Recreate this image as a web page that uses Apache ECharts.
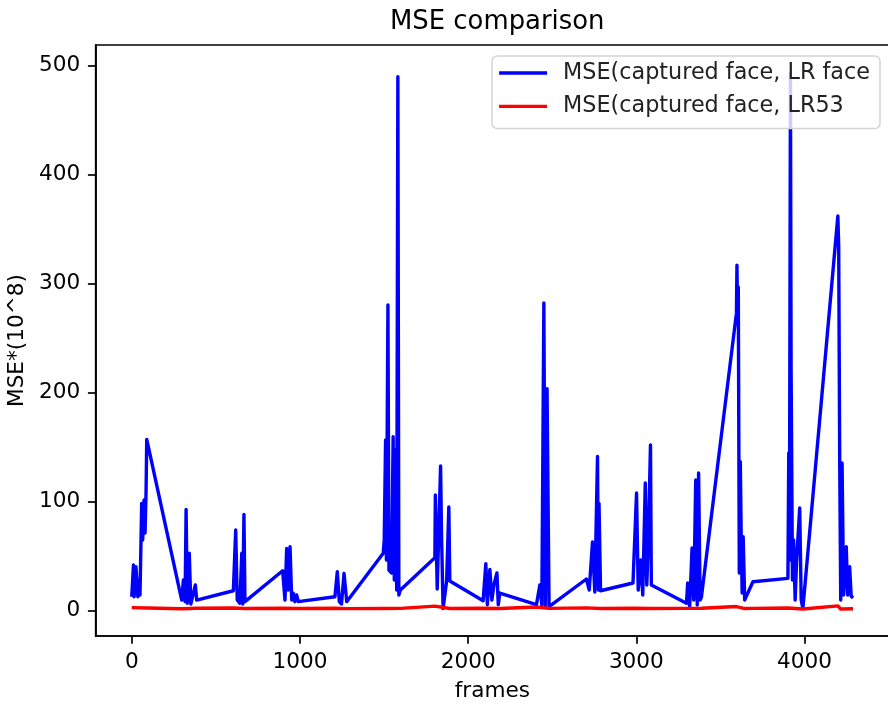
<!DOCTYPE html>
<html>
<head>
<meta charset="utf-8">
<script src="https://cdn.jsdelivr.net/npm/echarts@6/dist/echarts.min.js"></script>
<style>
html,body{margin:0;padding:0;background:#fff;}
#chart{width:888px;height:704px;}
</style>
</head>
<body>
<div id="chart"></div>
<script>
// ---- data ----
const blueFrames = [0,10,14,25,36,45,49,59,65,73,79,85,89,
  297,307,317,323,330,342,351,366,378,386,
  604,618,627,643,654,660,667,673,
  897,911,921,930,941,951,960,970,980,990,
  1208,1222,1234,1247,1262,1278,
  1495,1501,1509,1514,1523,1529,1545,1554,1561,1570,1575,1582,1588,1597,
  1802,1805,1816,1836,1842,1851,1872,1885,1891,
  2089,2105,2114,2129,2141,2153,2171,2179,2188,
  2406,2426,2438,2450,2459,2469,2481,
  2703,2720,2739,2753,2769,2774,2778,2787,
  2980,3001,3011,3026,3038,3053,3062,3071,3084,3089,
  3298,3305,3317,3331,3341,3353,3362,3370,3379,3387,
  3595,3598,3602,3606,3612,3618,3623,3629,3635,3644,3693,
  3901,3906,3910,3916,3920,3928,3935,3944,3953,3971,3980,3990,
  4198,4203,4209,4215,4223,4232,4248,4256,4268,4277,4288];
const blueMSE = [12.8,41.9,12.8,40.4,12.8,28.2,14.4,98.5,64.9,101.6,71.3,109.2,157.2,
  9.8,28.2,8.3,93,6.8,52.7,6.1,16,23.6,9.8,
  18.3,74,9.8,6.8,52.7,6.1,88.4,8.3,
  36.7,9.8,57.2,19,58.7,9.8,16,8.3,14.4,8.3,
  12.8,35.8,8.3,6.1,34.3,8.3,
  52.7,64.9,156.6,46.5,280.5,37.3,34.6,159.6,28.2,148,19,490,14.4,19,
  48.6,106.1,19.9,132.8,66.7,1.9,27.2,95.1,27.2,
  9.1,43.2,5.5,37.8,9.8,23.6,34.6,5.5,16.2,
  5.5,23.6,5.2,282.3,4.3,203.7,3.8,
  29.1,19,63,17.2,141.5,19,98.3,18.3,
  25.4,108,19,46.5,14.4,117.2,23.6,64.9,152,23.6,
  6.8,25.4,3.4,57.5,9.8,120,5.2,126.3,9.8,12.8,
  273,317,266.7,297,34.6,136.7,71.3,16.2,67.9,9.8,26.6,
  29.7,144.7,46.5,493,220.8,28.2,64.9,9.8,46.5,94.2,9.8,2.2,
  362.1,334,135.5,9.8,135.5,14.4,58.7,14.4,40.4,13.5,11.7];
const redFrames = [0,90,297,386,604,673,897,990,1208,1278,1495,1600,1802,1891,
  2089,2188,2406,2481,2703,2787,2980,3089,3298,3387,3595,3644,3693,3901,3990,4198,4215,4288];
const redMSE = [2.8,2.5,1.8,2.2,2.5,2.0,2.3,2.0,2.2,1.9,2.0,2.1,4.2,2.0,
  2.3,2.0,3.4,2.1,2.6,2.0,2.3,2.0,2.1,2.2,3.8,2.0,2.1,2.5,1.6,4.4,1.6,1.8];
const xTicks = [0,1000,2000,3000,4000];
const yTicks = [0,100,200,300,400,500];
const seriesNames = ['MSE(captured face, LR face', 'MSE(captured face, LR53'];

const zip = (xs, ys) => xs.map((x, i) => [x, ys[i]]);

const FONT = 'DejaVu Sans';
const chart = echarts.init(document.getElementById('chart'), null, {renderer: 'canvas'});
const axisCommon = {
  axisLine: {show: true, onZero: false, lineStyle: {color: '#000', width: 1.7}},
  axisTick: {show: true, inside: false, length: 7.8, lineStyle: {color: '#000', width: 1.7}},
  splitLine: {show: false},
  nameTextStyle: {color: '#000', fontFamily: FONT, fontSize: 21.6}
};
chart.setOption({
  animation: false,
  backgroundColor: '#fff',
  title: {
    text: 'MSE comparison', left: 385, top: 4,
    textStyle: {color: '#000', fontFamily: FONT, fontSize: 25.9, fontWeight: 'normal'}
  },
  legend: {
    data: seriesNames, orient: 'vertical', right: 8, top: 56,
    icon: 'rect', itemWidth: 48, itemHeight: 3.4, itemGap: 11.4,
    padding: [6, 10, 11, 7],
    backgroundColor: 'rgba(255,255,255,0.8)', borderColor: '#d4d4d4', borderWidth: 1.5, borderRadius: 5,
    textStyle: {color: '#222', fontFamily: FONT, fontSize: 22.3, lineHeight: 22, padding: [0, 0, 0, 11]}
  },
  grid: {left: 95.7, top: 45, right: -1, bottom: 68, show: true, borderColor: '#000', borderWidth: 1.7,
    backgroundColor: 'transparent', containLabel: false, outerBoundsMode: 'none'},
  xAxis: Object.assign({}, axisCommon, {
    type: 'value', min: -214.4, max: 4502,
    name: 'frames', nameLocation: 'middle', nameGap: 44,
    axisTick: Object.assign({}, axisCommon.axisTick, {customValues: xTicks}),
    axisLabel: {customValues: xTicks, formatter: v => String(v), color: '#000', fontFamily: FONT, fontSize: 21.6, margin: 15}
  }),
  yAxis: Object.assign({}, axisCommon, {
    type: 'value', min: -23.2, max: 519,
    name: 'MSE*(10^8)', nameLocation: 'middle', nameGap: 64, nameRotate: 90,
    axisTick: Object.assign({}, axisCommon.axisTick, {customValues: yTicks}),
    axisLabel: {customValues: yTicks, formatter: v => String(v), color: '#000', fontFamily: FONT, fontSize: 21.6, margin: 15.4}
  }),
  series: [
    {name: seriesNames[0], type: 'line', data: zip(blueFrames, blueMSE), showSymbol: false, symbol: 'none',
      lineStyle: {color: '#0000ff', width: 3.4, join: 'round'}, itemStyle: {color: '#0000ff'}, z: 2},
    {name: seriesNames[1], type: 'line', data: zip(redFrames, redMSE), showSymbol: false, symbol: 'none',
      lineStyle: {color: '#ff0000', width: 3.4, join: 'round'}, itemStyle: {color: '#ff0000'}, z: 3}
  ]
});
</script>
</body>
</html>
